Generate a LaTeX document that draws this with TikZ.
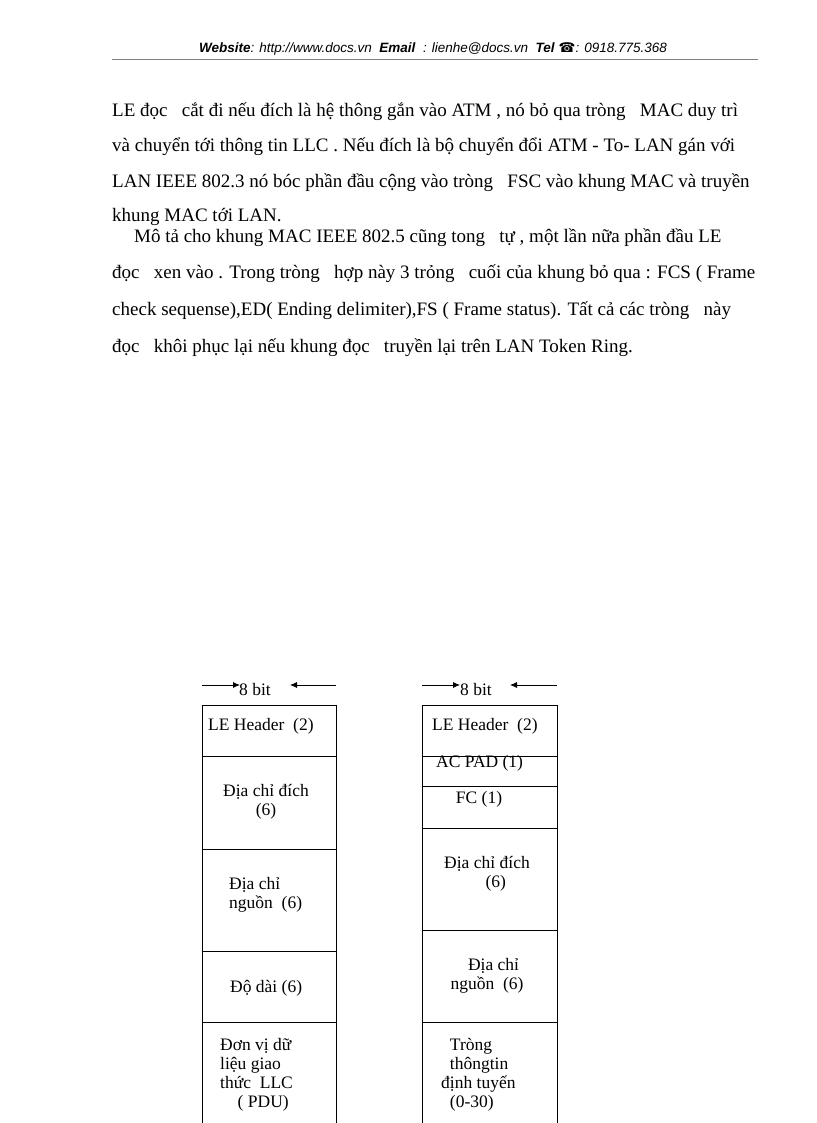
\documentclass[tikz,border=0pt]{standalone}
\usepackage{fontspec}
\usetikzlibrary{arrows.meta}
\setmainfont{Liberation Serif}
\newfontfamily\hdr{Liberation Sans}
\newfontfamily\sym{DejaVu Sans}
\begin{document}
\begin{tikzpicture}[x=1pt,y=-1pt,
  body/.style={anchor=base west,inner sep=0,font=\fontsize{19}{22}\selectfont},
  cell/.style={inner sep=0,font=\fontsize{17.5}{19}\selectfont,align=center},
  ln/.style={line width=0.8pt},
  tip/.style={-{Latex[length=7pt,width=6pt]},line width=0.8pt}]
\useasboundingbox (0,0) rectangle (816,1123);
\node[inner sep=0,anchor=base,font=\hdr\fontsize{13.5}{15}\selectfont] (hd) at (433,53)
 {\textbf{\textit{Website}}\textit{: http://www.docs.vn\ \ }\textbf{\textit{Email}}\textit{\ \ : lienhe@docs.vn\ \ }\textbf{\textit{Tel}} {\sym\char"260E}\textit{: 0918.775.368}};
\draw[gray,line width=1pt] (112,60) -- (758,60);
\node[body] (t1) at (112,117) {LE đọc\ \ \ cắt đi nếu đích là hệ thông gắn vào ATM , nó bỏ qua tròng\ \ \ MAC duy trì};
\node[body] (t2) at (112,152) {và chuyển tới thông tin LLC . Nếu đích là bộ chuyển đổi ATM - To- LAN gán với};
\node[body] (t3) at (112,188) {LAN IEEE 802.3 nó bóc phần đầu cộng vào tròng\ \ \ FSC vào khung MAC và truyền};
\node[body] (t4) at (112,222) {khung MAC tới LAN.};
\node[body] (t5) at (134,243) {Mô tả cho khung MAC IEEE 802.5 cũng tong\ \ \ tự , một lần nữa phần đầu LE};
\node[body] (t6) at (112,278) {đọc\ \ \ xen vào . Trong tròng\ \ \ hợp này 3 trỏng\ \ \ cuối của khung bỏ qua : FCS ( Frame};
\node[body] (t7) at (112,315) {check sequense),ED( Ending delimiter),FS ( Frame status). Tất cả các tròng\ \ \ này};
\node[body] (t8) at (112,352) {đọc\ \ \ khôi phục lại nếu khung đọc\ \ \ truyền lại trên LAN Token Ring.};
% left column
\draw[ln] (202,1123) -- (202,705) -- (336,705) -- (336,1123);
\foreach \y in {756,849,951,1022} \draw[ln] (202,\y) -- (336,\y);
\coordinate (la1) at (202,685); \coordinate (la2) at (240,685);
\coordinate (lb1) at (336,685); \coordinate (lb2) at (290,685);
\draw[tip] (la1) -- (la2); \draw[tip] (lb1) -- (lb2);
\node[cell,anchor=west] (lbit) at (239,690) {8 bit};
\node[cell,anchor=west] (l1) at (208,726) {LE Header\ \ (2)};
\node[cell] (l2) at (266,802) {Địa chỉ đích\\(6)};
\node[cell,align=left,anchor=west] (l3) at (229,895) {Địa chỉ\\nguồn\ \ (6)};
\node[cell,anchor=west] (l4) at (230,988) {Độ dài (6)};
\node[cell,align=left,anchor=west] (l5) at (220,1075) {Đơn vị dữ\\liệu giao\\thức\ \ LLC\\\ \ \ \ ( PDU)};
% right column
\draw[ln] (422,1123) -- (422,705) -- (557,705) -- (557,1123);
\foreach \y in {756,786,828,930,1022} \draw[ln] (422,\y) -- (557,\y);
\coordinate (ra1) at (422,685); \coordinate (ra2) at (460,685);
\coordinate (rb1) at (557,685); \coordinate (rb2) at (510,685);
\draw[tip] (ra1) -- (ra2); \draw[tip] (rb1) -- (rb2);
\node[cell,anchor=west] (rbit) at (460,690) {8 bit};
\node[cell,anchor=west] (r1) at (432,726) {LE Header\ \ (2)};
\node[cell,anchor=west] (r2) at (436,763) {AC PAD (1)};
\node[cell] (r3) at (479,799) {FC (1)};
\node[cell] (r4) at (487,874) {Địa chỉ đích\\\ \ \ \ (6)};
\node[cell] (r5) at (487,976) {\ \ \ Địa chỉ\\nguồn\ \ (6)};
\node[cell,align=left,anchor=west] (r6) at (441,1075) {\ \ Tròng\\\ \ thôngtin\\định tuyến\\\ \ (0-30)};
\end{tikzpicture}
\end{document}
